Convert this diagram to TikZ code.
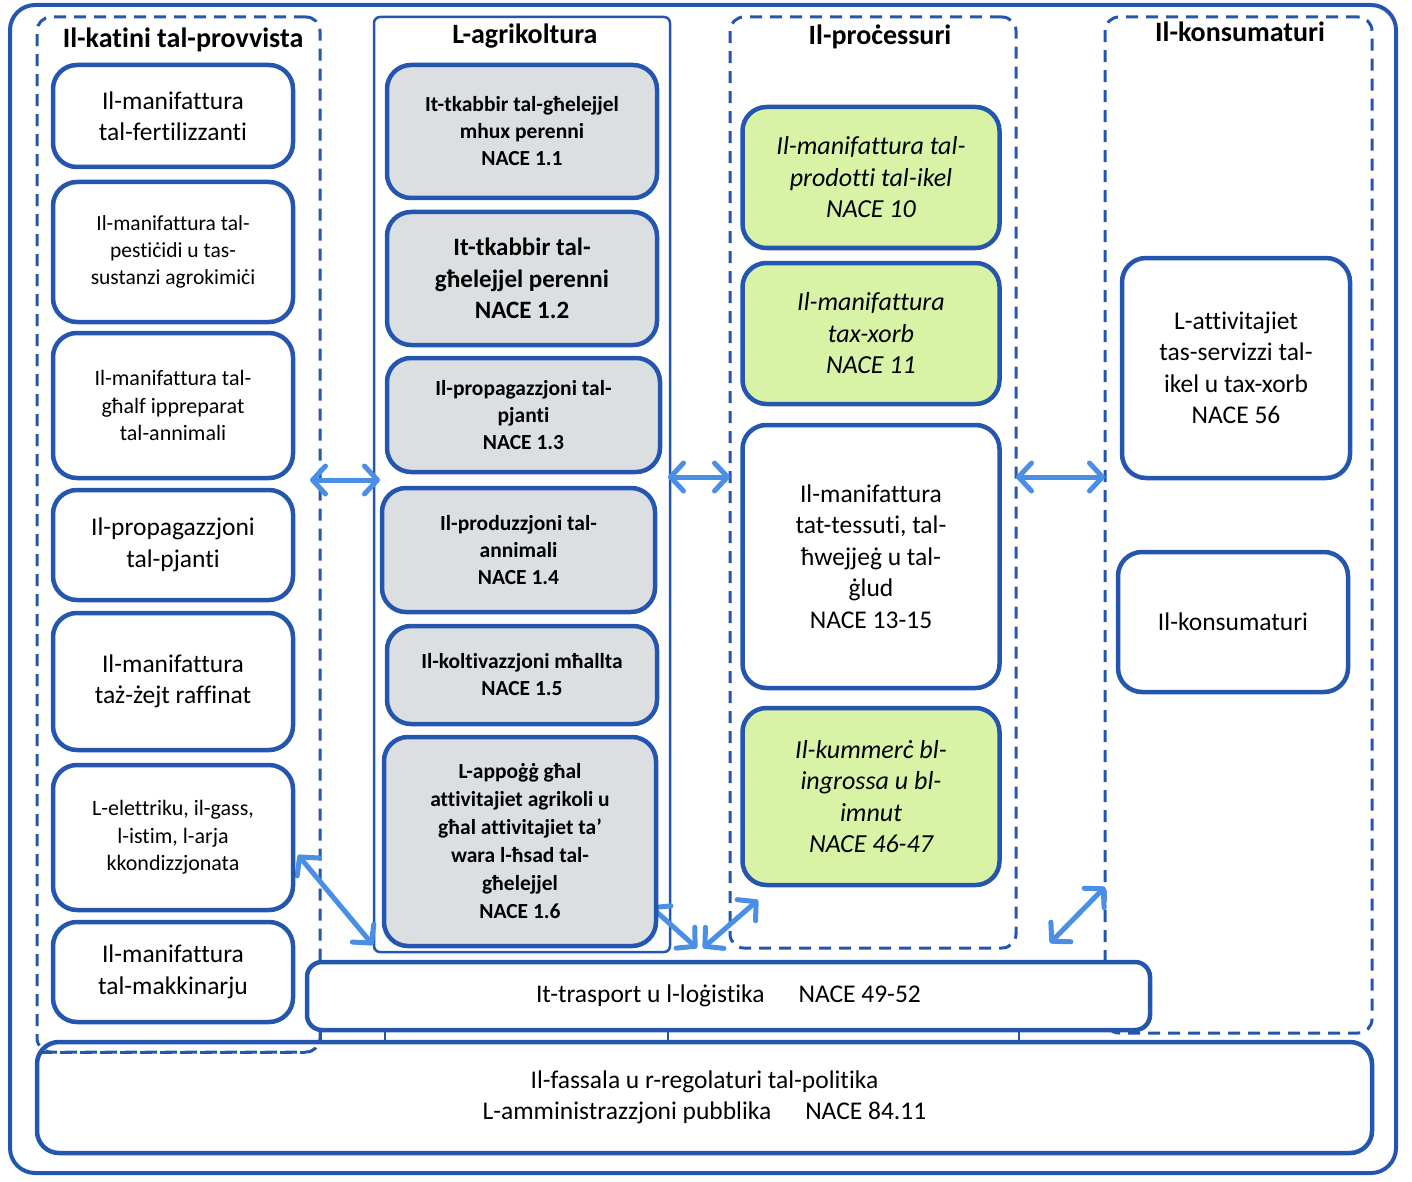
\documentclass[tikz,border=0pt]{standalone}
\usepackage{fontspec}
\setmainfont{Carlito}[Ligatures=NoCommon]
\usetikzlibrary{arrows.meta}
\definecolor{dblue}{HTML}{2456B0}
\definecolor{lblue}{HTML}{4A8FE6}
\definecolor{greyfill}{HTML}{DCDFE1}
\definecolor{greenfill}{HTML}{D8F2A6}
\begin{document}
\begin{tikzpicture}[x=1pt,y=-1pt,
  colframe/.style={draw=dblue, line width=3pt, dash pattern=on 12pt off 8pt, rounded corners=14pt, inner sep=0pt},
  bx/.style={draw=dblue, line width=4.5pt, rounded corners=24pt, fill=white, align=center, inner sep=0pt,
     font=\fontsize{25.5}{31.5}\selectfont},
  smallbx/.style={bx, font=\fontsize{22}{27.5}\selectfont},
  greybox/.style={bx, fill=greyfill, font=\bfseries\fontsize{21.5}{27}\selectfont},
  greenbox/.style={bx, fill=greenfill, font=\itshape\fontsize{26}{31.5}\selectfont},
  header/.style={font=\bfseries\fontsize{28}{32}\selectfont, inner sep=0pt},
  arr/.style={draw=lblue, line width=5pt, line cap=round,
     {Straight Barb[length=13pt,width=28pt,round]}-{Straight Barb[length=13pt,width=28pt,round]}}
]
\useasboundingbox (0,0) rectangle (1412,1182);
% outer frame
\node[draw=dblue, line width=4pt, rounded corners=25pt, minimum width=1386pt, minimum height=1168pt, inner sep=0pt] (outer) at (703,589) {};
% column frames
\node[colframe, minimum width=283pt, minimum height=1035pt] (col1) at (178.5,534.5) {};
\node[colframe, minimum width=286pt, minimum height=931pt] (col3) at (873,482.5) {};
\node[colframe, minimum width=267pt, minimum height=1016pt] (col4) at (1238.5,525) {};
\node[draw=dblue, line width=2.5pt, rounded corners=6pt, minimum width=296pt, minimum height=935pt, inner sep=0pt] (col2) at (522,484.5) {};
% ticks below transport
\coordinate (t1a) at (385,1028); \coordinate (t1b) at (385,1042);
\coordinate (t2a) at (668,1028); \coordinate (t2b) at (668,1042);
\coordinate (t3a) at (1019,1028); \coordinate (t3b) at (1019,1042);
\coordinate (t4a) at (321,1028); \coordinate (t4b) at (321,1042);
\draw[dblue, line width=2.5pt] (t1a) -- (t1b) (t2a) -- (t2b) (t3a) -- (t3b) (t4a) -- (t4b);

% headers
\node[header] (h1) at (183,40) {Il-katini tal-provvista};
\node[header] (h2) at (525,36) {L-agrikoltura};
\node[header] (h3) at (880,37) {Il-proċessuri};
\node[header] (h4) at (1240,32) {Il-konsumaturi};

% arrows
\coordinate (a1s) at (310,480); \coordinate (a1e) at (380,480);
\coordinate (a2s) at (668,477); \coordinate (a2e) at (730,477);
\coordinate (a3s) at (1016,477); \coordinate (a3e) at (1105,477);
\coordinate (a4s) at (298,855); \coordinate (a4e) at (373,945);
\coordinate (a5s) at (650,906); \coordinate (a5e) at (697,948);
\coordinate (a6s) at (703,948); \coordinate (a6e) at (758,900);
\coordinate (a7s) at (1050,943); \coordinate (a7e) at (1105,887);
\draw[arr] (a1s) -- (a1e);
\draw[arr] (a2s) -- (a2e);
\draw[arr] (a3s) -- (a3e);
\draw[arr] (a4s) -- (a4e);
\draw[arr] (a5s) -- (a5e);
\draw[arr] (a6s) -- (a6e);
\draw[arr] (a7s) -- (a7e);

% column 1
\node[bx, minimum width=240pt, minimum height=102pt] (s1) at (173,116) {Il-manifattura\\tal-fertilizzanti};
\node[smallbx, font=\fontsize{21.5}{27}\selectfont, minimum width=240pt, minimum height=140pt] (s2) at (173,252) {Il-manifattura tal-\\pestiċidi u tas-\\sustanzi agrokimiċi};
\node[smallbx, minimum width=240pt, minimum height=145pt] (s3) at (173,405.5) {Il-manifattura tal-\\għalf ippreparat\\tal-annimali};
\node[bx, minimum width=240pt, minimum height=110pt] (s4) at (173,545) {Il-propagazzjoni\\tal-pjanti};
\node[bx, minimum width=240pt, minimum height=137pt] (s5) at (173,681.5) {Il-manifattura\\taż-żejt raffinat};
\node[smallbx, minimum width=240pt, minimum height=145pt] (s6) at (173,837.5) {L-elettriku, il-gass,\\l-istim, l-arja\\kkondizzjonata};
\node[bx, minimum width=240pt, minimum height=100pt] (s7) at (173,972) {Il-manifattura\\tal-makkinarju};

% column 2
\node[greybox, minimum width=270pt, minimum height=133pt] (g1) at (522,131.5) {It-tkabbir tal-għelejjel\\mhux perenni\\NACE 1.1};
\node[greybox, font=\bfseries\fontsize{25}{31.5}\selectfont, minimum width=270pt, minimum height=133pt] (g2) at (522,278.5) {It-tkabbir tal-\\għelejjel perenni\\NACE 1.2};
\node[greybox, minimum width=273pt, minimum height=114pt] (g3) at (523.5,415) {Il-propagazzjoni tal-\\pjanti\\NACE 1.3};
\node[greybox, minimum width=273pt, minimum height=124pt] (g4) at (518.5,550) {Il-produzzjoni tal-\\annimali\\NACE 1.4};
\node[greybox, minimum width=270pt, minimum height=98pt] (g5) at (522,675) {Il-koltivazzjoni mħallta\\NACE 1.5};
\node[greybox, font=\bfseries\fontsize{21.5}{28}\selectfont, minimum width=272pt, minimum height=209pt] (g6) at (520,841.5) {L-appoġġ għal\\attivitajiet agrikoli u\\għal attivitajiet ta’\\wara l-ħsad tal-\\għelejjel\\NACE 1.6};

% column 3
\node[greenbox, minimum width=257pt, minimum height=141pt] (p1) at (871,177.5) {Il-manifattura tal-\\prodotti tal-ikel\\NACE 10};
\node[greenbox, minimum width=257pt, minimum height=141pt] (p2) at (871,333.5) {Il-manifattura\\tax-xorb\\NACE 11};
\node[bx, minimum width=257pt, minimum height=263pt] (p3) at (871,556.5) {Il-manifattura\\tat-tessuti, tal-\\ħwejjeġ u tal-\\ġlud\\NACE 13-15};
\node[greenbox, minimum width=257pt, minimum height=177pt] (p4) at (871,796.5) {Il-kummerċ bl-\\ingrossa u bl-\\imnut\\NACE 46-47};

% column 4
\node[bx, minimum width=228pt, minimum height=220pt] (k1) at (1236,368) {L-attivitajiet\\tas-servizzi tal-\\ikel u tax-xorb\\NACE 56};
\node[bx, minimum width=230pt, minimum height=140pt] (k2) at (1233,622) {Il-konsumaturi};

% transport
\node[bx, rounded corners=15pt, minimum width=843pt, minimum height=68pt] (tr) at (728.5,996) {It-trasport u l-loġistika\hspace{34pt}NACE 49-52};

% bottom
\node[bx, fill=none, rounded corners=22pt, minimum width=1335pt, minimum height=111pt] (pol) at (704.5,1097.5) {Il-fassala u r-regolaturi tal-politika\\L-amministrazzjoni pubblika\hspace{34pt}NACE 84.11};
% dashed bottom of column 1 visible inside bottom box
\coordinate (d1) at (40,1052); \coordinate (d2) at (305,1052);
\draw[dblue, line width=3pt, dash pattern=on 12pt off 8pt] (d1) -- (d2);
\end{tikzpicture}
\end{document}
